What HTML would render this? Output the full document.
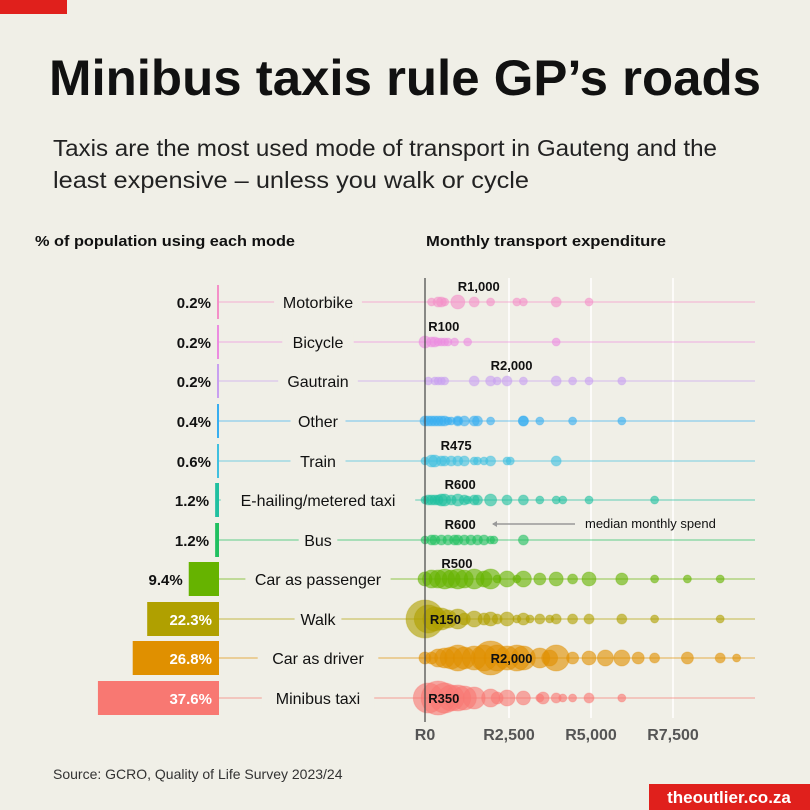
<!DOCTYPE html>
<html><head><meta charset="utf-8"><style>
body{margin:0;background:#f0efe7;font-family:"Liberation Sans",sans-serif;}
#w{position:relative;width:810px;height:810px;overflow:hidden;background:#f0efe7}
</style></head><body><div id="w">
<svg width="810" height="810" xmlns="http://www.w3.org/2000/svg" font-family="Liberation Sans, sans-serif">
<rect x="0" y="0" width="67" height="14" fill="#e0201c"/>
<text x="405" y="95" text-anchor="middle" font-size="50" font-weight="bold" fill="#111" textLength="712" lengthAdjust="spacingAndGlyphs">Minibus taxis rule GP’s roads</text>
<text x="53" y="156" font-size="23" fill="#222" textLength="664" lengthAdjust="spacingAndGlyphs">Taxis are the most used mode of transport in Gauteng and the</text>
<text x="53" y="188" font-size="23" fill="#222" textLength="476" lengthAdjust="spacingAndGlyphs">least expensive – unless you walk or cycle</text>
<text x="35" y="246" font-size="15" font-weight="bold" fill="#111" textLength="260" lengthAdjust="spacingAndGlyphs">% of population using each mode</text>
<text x="426" y="246" font-size="15" font-weight="bold" fill="#111" textLength="240" lengthAdjust="spacingAndGlyphs">Monthly transport expenditure</text>
<g stroke="#ffffff" stroke-width="1.5">
<line x1="509" y1="278" x2="509" y2="718"/><line x1="591" y1="278" x2="591" y2="718"/><line x1="673" y1="278" x2="673" y2="718"/>
</g>
<g id="rows"></g>
<line x1="425" y1="278" x2="425" y2="722" stroke="#444" stroke-width="1.2"/>
<g font-size="16" font-weight="bold" fill="#555" text-anchor="middle">
<text x="425" y="740">R0</text><text x="509" y="740">R2,500</text><text x="591" y="740">R5,000</text><text x="673" y="740">R7,500</text>
</g>
<line x1="493" y1="524" x2="575" y2="524" stroke="#999" stroke-width="1.5"/>
<path d="M492 524 l5 -3 v6z" fill="#999"/>
<text x="585" y="528" font-size="13" fill="#111">median monthly spend</text>
<text x="53" y="779" font-size="14" fill="#333">Source: GCRO, Quality of Life Survey 2023/24</text>
<rect x="649" y="784" width="161" height="26" fill="#e0201c"/>
<text x="729" y="803" text-anchor="middle" font-size="17" font-weight="bold" fill="#fff">theoutlier.co.za</text>
</svg>
<script>
const NS="http://www.w3.org/2000/svg";
const g=document.getElementById('rows');
const X=v=>425+v*0.0328;
const rows=[
["Motorbike","0.2%",0.2,"#f490c8",302,"R1,000",1000,[[200,4],[400,5],[500,5],[600,4],[1000,7],[1500,5],[2000,4],[2800,4],[3000,4],[4000,5],[5000,4]]],
["Bicycle","0.2%",0.2,"#ec8ce0",342,"R100",100,[[0,6],[200,5],[300,5],[400,4],[500,4],[600,4],[700,4],[900,4],[1300,4],[4000,4]]],
["Gautrain","0.2%",0.2,"#c8a0f0",381,"R2,000",2000,[[100,4],[300,4],[400,4],[500,4],[600,4],[1500,5],[2000,5],[2200,4],[2500,5],[3000,4],[4000,5],[4500,4],[5000,4],[6000,4]]],
["Other","0.4%",0.4,"#38aef0",421,null,0,[[0,5],[100,5],[200,5],[300,5],[400,5],[500,5],[600,5],[700,4],[800,4],[1000,4],[1000,5],[1200,5],[1500,5],[1600,5],[2000,4],[3000,5],[3000,5],[3500,4],[4500,4],[6000,4]]],
["Train","0.6%",0.6,"#40c0e0",461,"R475",475,[[0,4],[200,6],[300,6],[500,5],[600,5],[800,5],[1000,5],[1200,5],[1500,4],[1600,4],[1800,4],[2000,5],[2500,4],[2600,4],[4000,5]]],
["E-hailing/metered taxi","1.2%",1.2,"#20c0a0",500,"R600",600,[[0,4],[100,5],[200,5],[300,5],[400,5],[500,6],[600,6],[800,5],[1000,6],[1200,5],[1300,4],[1500,5],[1600,5],[2000,6],[2500,5],[3000,5],[3500,4],[4000,4],[4200,4],[5000,4],[7000,4]]],
["Bus","1.2%",1.2,"#20c060",540,"R600",600,[[0,4],[200,5],[300,5],[500,5],[700,5],[900,5],[1000,5],[1200,5],[1400,5],[1600,5],[1800,5],[2000,4],[2100,4],[3000,5]]],
["Car as passenger","9.4%",9.4,"#66b300",579,"R500",500,[[0,7],[200,9],[400,9],[600,10],[800,9],[1000,10],[1200,9],[1500,10],[1800,8],[2000,10],[2200,4],[2500,8],[2800,4],[3000,8],[3500,6],[4000,7],[4500,5],[5000,7],[6000,6],[7000,4],[8000,4],[9000,4]]],
["Walk","22.3%",22.3,"#b0a000",619,"R150",150,[[0,19],[100,14],[300,12],[500,11],[700,9],[1000,10],[1200,6],[1500,8],[1800,6],[2000,7],[2200,5],[2500,7],[2800,4],[3000,6],[3200,4],[3500,5],[3800,4],[4000,5],[4500,5],[5000,5],[6000,5],[7000,4],[9000,4]]],
["Car as driver","26.8%",26.8,"#e09000",658,"R2,000",2000,[[0,6],[200,6],[400,9],[600,10],[800,11],[1000,13],[1200,11],[1500,12],[1800,13],[2000,17],[2200,13],[2500,12],[2800,13],[3000,12],[3500,10],[3800,8],[4000,13],[4500,6],[5000,7],[5500,8],[6000,8],[6500,6],[7000,5],[8000,6],[9000,5],[9500,4]]],
["Minibus taxi","37.6%",37.6,"#f87872",698,"R350",100,[[100,15],[400,17],[600,15],[800,13],[1000,13],[1200,12],[1500,11],[2000,9],[2200,6],[2500,8],[3000,7],[3500,4],[3600,6],[4000,5],[4200,4],[4500,4],[5000,5],[6000,4]]]
];
function el(t,a,txt){const e=document.createElementNS(NS,t);for(const k in a)e.setAttribute(k,a[k]);if(txt)e.textContent=txt;g.appendChild(e);return e;}
rows.forEach(r=>{
 const [name,pct,v,c,y,lab,lv,dots]=r;
 el('line',{x1:219,y1:y,x2:755,y2:y,stroke:c,'stroke-opacity':0.55,'stroke-width':1.2});
 const t=el('text',{x:318,y:y+6,'font-size':16,'text-anchor':'middle',fill:'#111'},name);
 const w=name.length*8.2+14;
 t.remove();
 el('rect',{x:318-w/2,y:y-10,width:w,height:20,fill:'#f0efe7'});
 g.appendChild(t);
 const bw=Math.max(2,v*3.22);
 el('rect',{x:219-bw,y:y-17,width:bw,height:34,fill:c});
 const inside=v>20;
 el('text',{x:inside?212:(219-bw-6),y:y+6,'font-size':15,'font-weight':'bold','text-anchor':'end',fill:inside?'#fff':'#111'},pct);
 dots.forEach(d=>el('circle',{cx:X(d[0]),cy:y,r:d[1],fill:c,'fill-opacity':0.62,stroke:c,'stroke-opacity':0.35}));
 if(lab){
   const big=(name=="Walk"||name=="Car as driver"||name=="Minibus taxi");
   el('text',{x:X(lv),y:big?y+5:y-11,'font-size':13,'font-weight':'bold','text-anchor':'start',fill:'#111'},lab);
 }
});
</script>
</div></body></html>
